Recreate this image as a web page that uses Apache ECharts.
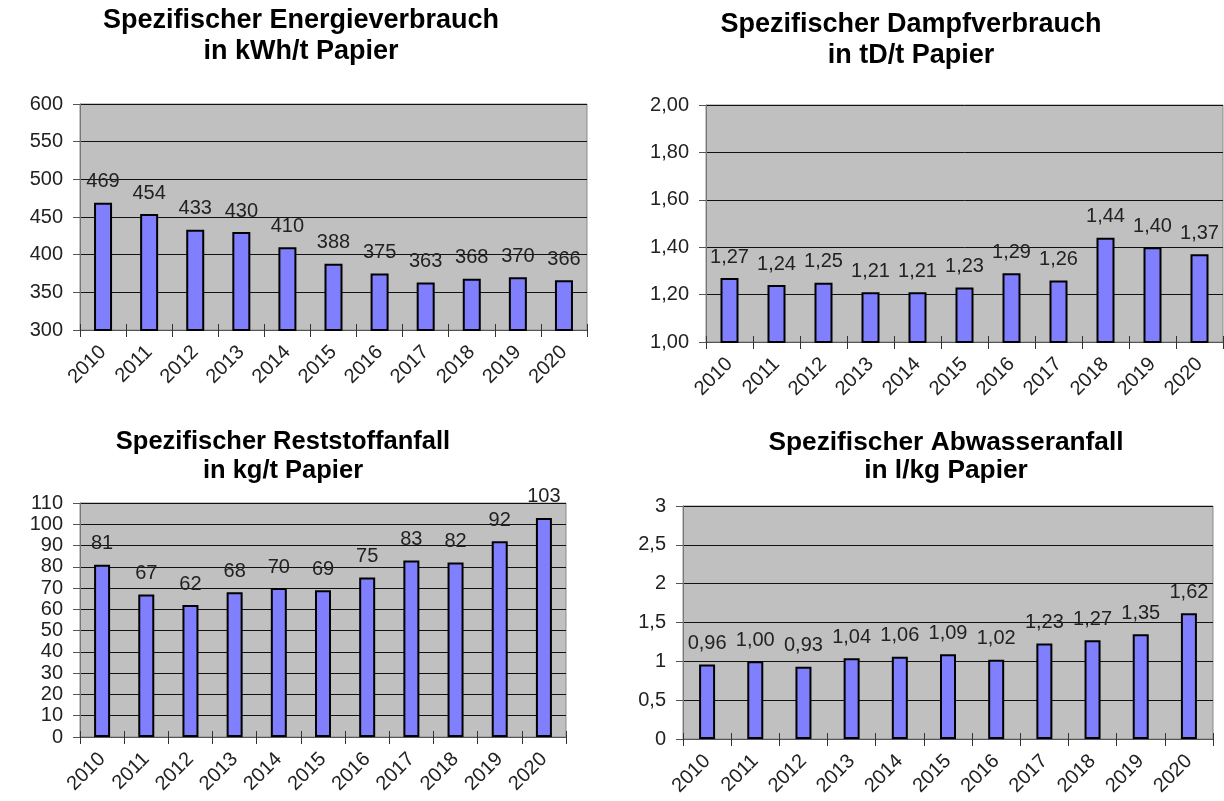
<!DOCTYPE html>
<html><head><meta charset="utf-8">
<script src="https://cdn.jsdelivr.net/npm/echarts@6/dist/echarts.min.js"></script>
<style>html,body{margin:0;padding:0;background:#fff}#c{width:1224px;height:801px}</style>
</head><body><div id="c"></div>
<script>
const years = ['2010','2011','2012','2013','2014','2015','2016','2017','2018','2019','2020'];
const energy = [469,454,433,430,410,388,375,363,368,370,366];
const steam = [1.27,1.24,1.25,1.21,1.21,1.23,1.29,1.26,1.44,1.40,1.37];
const residue = [81,67,62,68,70,69,75,83,82,92,103];
const wastewater = [0.96,1.00,0.93,1.04,1.06,1.09,1.02,1.23,1.27,1.35,1.62];
const titles = [
  ['Spezifischer Energieverbrauch','in kWh/t Papier'],
  ['Spezifischer Dampfverbrauch','in tD/t Papier'],
  ['Spezifischer Reststoffanfall','in kg/t Papier'],
  ['Spezifischer Abwasseranfall','in l/kg Papier']
];
const FONT = "'Liberation Sans', Arial, sans-serif";
const comma2 = v => Number(v).toFixed(2).replace('.', ',');
const commaAuto = v => String(v).replace('.', ',');
const intFmt = v => String(Math.round(v));

const grids = [
  {left:80, top:104, width:507, height:226},
  {left:706, top:105, width:517, height:237},
  {left:80, top:503, width:486, height:234},
  {left:683, top:506, width:530, height:233}
];
const barW = [18, 18, 16, 16];
const yConf = [
  {min:300, max:600, interval:50, fmt:intFmt},
  {min:1.0, max:2.0, interval:0.2, fmt:comma2},
  {min:0, max:110, interval:10, fmt:intFmt},
  {min:0, max:3, interval:0.5, fmt:commaAuto}
];
const datas = [energy, steam, residue, wastewater];
const labelFmts = [intFmt, comma2, intFmt, comma2];
const titlePos = [
  {x:301, y1:21, y2:52, fs:27},
  {x:911, y1:25, y2:56, fs:27},
  {x:283, y1:442, y2:471, fs:25.5},
  {x:946, y1:443, y2:471, fs:26.3}
];

const xAxes = [];
grids.forEach((g,i) => {
  xAxes.push({
    type:'category', gridIndex:i, data:years, boundaryGap:true, position:'bottom',
    axisLine:{show:true, lineStyle:{color:'#555', width:1}},
    axisTick:{show:true, alignWithLabel:false, length:7, inside:false, lineStyle:{color:'#333'}},
    axisLabel:{rotate:45, fontSize:20, color:'#222', fontFamily:FONT, margin:19, interval:0}
  });
});
grids.forEach((g,i) => {
  xAxes.push({
    type:'category', gridIndex:i, data:years, boundaryGap:true, position:'bottom',
    axisLine:{show:false},
    axisTick:{show:true, alignWithLabel:false, length:6, inside:true, lineStyle:{color:'#333'}},
    axisLabel:{show:false}, splitLine:{show:false}
  });
});

const option = {
  animation:false,
  backgroundColor:'#fff',
  textStyle:{fontFamily:FONT},
  grid: grids.map(g => Object.assign({show:true, backgroundColor:'#c0c0c0', borderColor:'#8a8a8a', borderWidth:1, containLabel:false}, g)),
  xAxis: xAxes,
  yAxis: yConf.map((c,i) => ({
    type:'value', gridIndex:i, min:c.min, max:c.max, interval:c.interval,
    axisLine:{show:true, lineStyle:{color:'#777', width:1}},
    axisTick:{show:true, length:7, lineStyle:{color:'#555'}},
    splitLine:{show:true, lineStyle:{color:'#111', width:1}},
    axisLabel:{fontSize:20, color:'#222', fontFamily:FONT, margin:17, formatter:c.fmt}
  })),
  series: datas.map((d,i) => ({
    type:'bar', xAxisIndex:i, yAxisIndex:i, data:d, barWidth:barW[i],
    itemStyle:{color:'#8080ff', borderColor:'#000', borderWidth:2},
    label:{show:true, position:'top', distance:11, fontSize:20, color:'#222', fontFamily:FONT, formatter:p => labelFmts[i](p.value)}
  })),
  graphic: titles.flatMap((t,i) => [
    {type:'text', x:titlePos[i].x, y:titlePos[i].y1, style:{text:t[0], font:'bold '+titlePos[i].fs+'px '+FONT, fill:'#000', textAlign:'center', textVerticalAlign:'middle'}},
    {type:'text', x:titlePos[i].x, y:titlePos[i].y2, style:{text:t[1], font:'bold '+titlePos[i].fs+'px '+FONT, fill:'#000', textAlign:'center', textVerticalAlign:'middle'}}
  ])
};
const chart = echarts.init(document.getElementById('c'));
chart.setOption(option);
</script>
</body></html>
